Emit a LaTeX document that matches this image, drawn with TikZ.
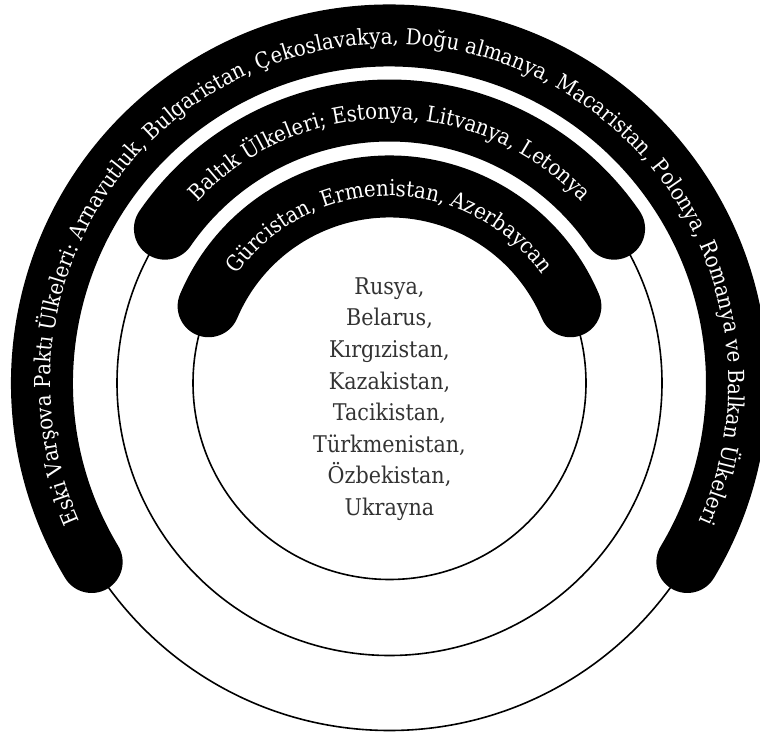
\documentclass[tikz,border=0pt]{standalone}
\usepackage{fontspec}
\setmainfont{DejaVu Serif}[FakeStretch=0.9]
\usetikzlibrary{decorations.text}
\definecolor{coretext}{HTML}{333333}
\begin{document}
\begin{tikzpicture}[x=1pt,y=1pt,
  ring/.style={line width=1.6pt, draw=black},
  band/.style={line width=62pt, line cap=round, draw=black},
  bandtext/.style={decorate, decoration={text along path, text align=center,
     text={|\color{white}\fontsize{22}{26}\selectfont|#1}}}
]
\useasboundingbox (0,0) rectangle (760,732);
\coordinate (O) at (389.5,349);
% thin circles
\draw[ring] (O) circle[radius=196.5];
\draw[ring] (O) circle[radius=272.5];
\draw[ring] (O) circle[radius=347.5];
% bands
\draw[band] ([shift={(157:196.5)}]O) arc[start angle=157, end angle=23, radius=196.5];
\draw[band] ([shift={(145.5:272.5)}]O) arc[start angle=145.5, end angle=34.5, radius=272.5];
\draw[band] ([shift={(211:347.5)}]O) arc[start angle=211, end angle=-31, radius=347.5];
% band texts
\path[bandtext={Gürcistan, Ermenistan, Azerbaycan}]
  ([shift={(180:187)}]O) arc[start angle=180, end angle=0, radius=187];
\path[bandtext={Baltık Ülkeleri; Estonya, Litvanya, Letonya}]
  ([shift={(180:264)}]O) arc[start angle=180, end angle=0, radius=264];
\path[bandtext={Eski Varşova Paktı Ülkeleri: Arnavutluk, Bulgaristan, Çekoslavakya, Doğu almanya, Macaristan, Polonya, Romanya ve Balkan Ülkeleri}]
  ([shift={(240:339)}]O) arc[start angle=240, end angle=-60, radius=339];
% core text
\node[text=coretext, align=center, font=\fontsize{23}{31.6}\selectfont] (core) at (389.5,333)
  {Rusya,\\Belarus,\\Kırgızistan,\\Kazakistan,\\Tacikistan,\\Türkmenistan,\\Özbekistan,\\Ukrayna};
\end{tikzpicture}
\end{document}
